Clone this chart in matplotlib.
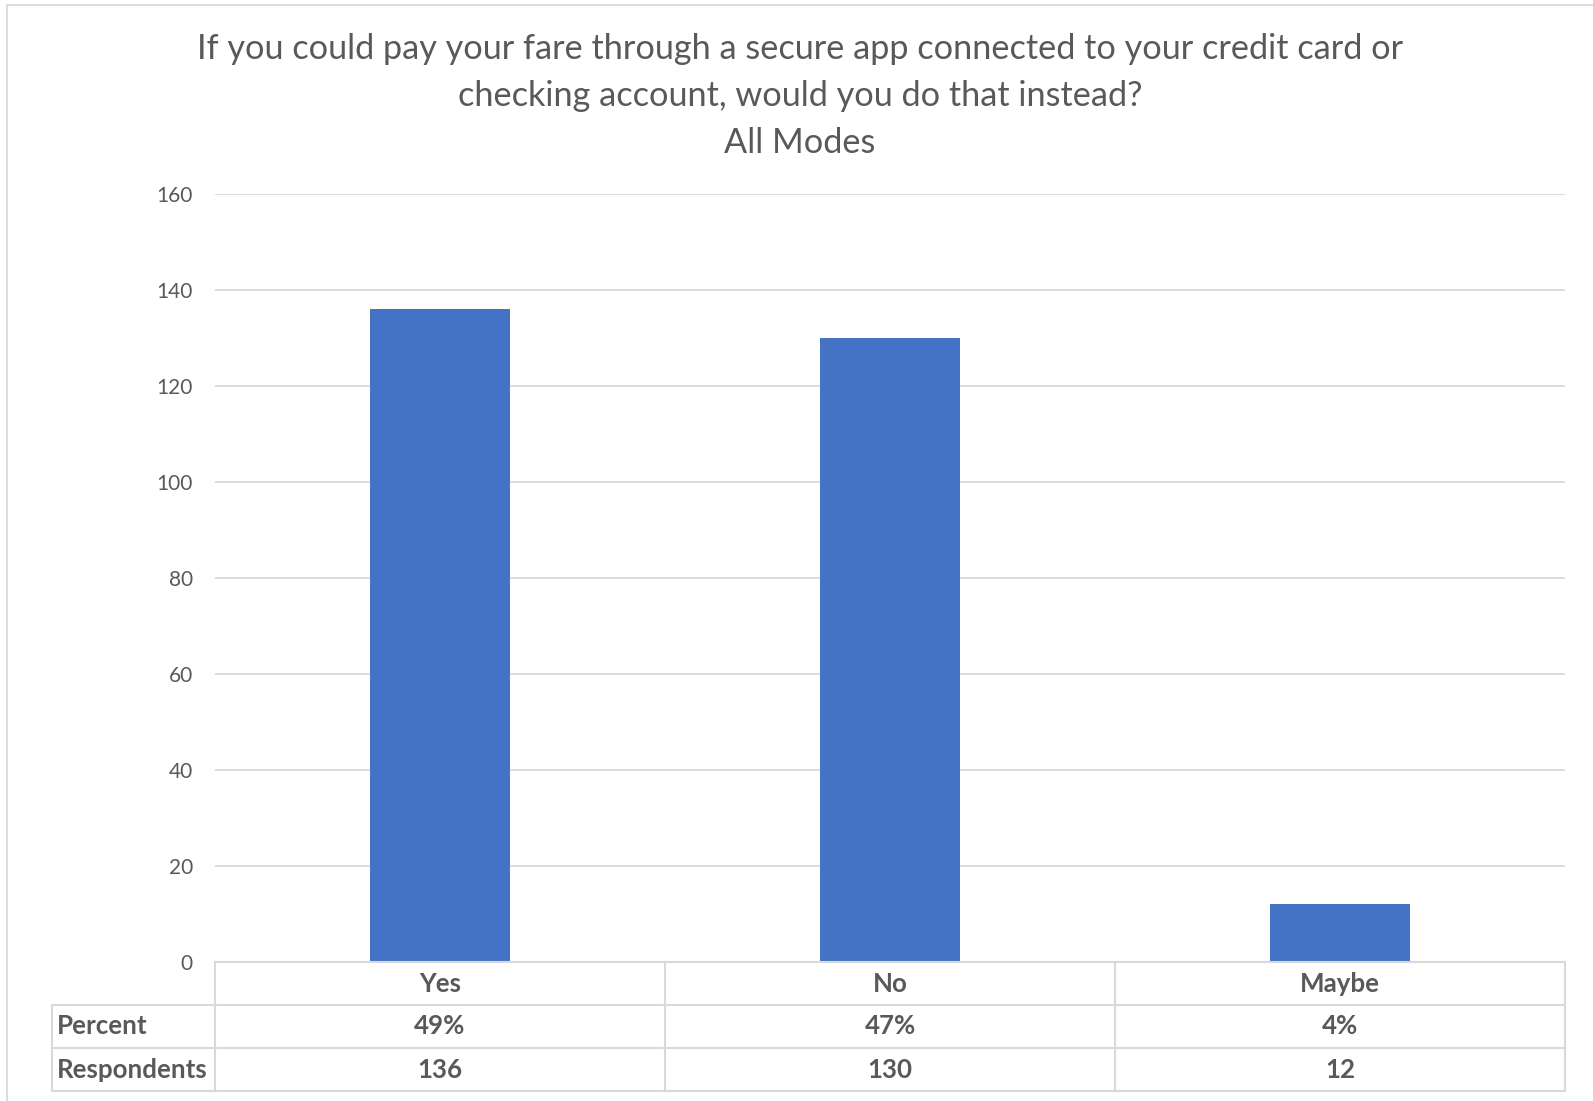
import matplotlib.pyplot as plt
from matplotlib.patches import Rectangle

plt.rcParams['font.family'] = ['Lato', 'DejaVu Sans']

categories = ['Yes', 'No', 'Maybe']
respondents = [136, 130, 12]
percent = ['49%', '47%', '4%']
row_labels = ['Percent', 'Respondents']
title = ('If you could pay your fare through a secure app connected to your credit card or\n'
         'checking account, would you do that instead?\nAll Modes')

W, H = 1593, 1101
text_color = '#595959'
grid_color = '#d9d9d9'
bar_color = '#4472C4'

fig = plt.figure(figsize=(W / 100, H / 100), dpi=100)

# outer chart border (only left and top edges are inside the frame)
fig.patches.append(Rectangle((7 / W, -0.1), 1.2, 1 - 5 / H + 0.1, transform=fig.transFigure,
                             fill=False, edgecolor=grid_color, linewidth=1.3))

left, right, top, bottom = 215, 1565, 194, 962
ax = fig.add_axes([left / W, 1 - bottom / H, (right - left) / W, (bottom - top) / H])

x = list(range(len(categories)))
ax.bar(x, respondents, width=0.31, color=bar_color, zorder=3)
ax.set_xlim(-0.5, len(categories) - 0.5)
ax.set_ylim(0, 160)
ax.set_yticks(range(0, 161, 20))
ax.yaxis.grid(True, color=grid_color, linewidth=1.3, zorder=0)
ax.tick_params(axis='y', length=0, pad=16, labelsize=15, labelcolor=text_color)
ax.set_xticks([])
for s in ax.spines.values():
    s.set_visible(False)

fig.text(800 / W, 1 - 96 / H, title, ha='center', va='center', fontsize=24.7,
         color=text_color, linespacing=1.56)

# data table underneath the bars
trans = ax.get_xaxis_transform()
ph = bottom - top
row_h = 43 / ph
cat_w = (right - left) / len(categories)
x_hdr = -0.5 - (left - 52) / cat_w
x_end = len(categories) - 0.5
lw = 1.5

# horizontal rules
ax.plot([-0.5, x_end], [0, 0], transform=trans, color=grid_color, lw=lw, clip_on=False, zorder=4)
for k in (1, 2, 3):
    ax.plot([x_hdr, x_end], [-k * row_h] * 2, transform=trans, color=grid_color,
            lw=lw, clip_on=False)
# vertical rules
ax.plot([x_hdr, x_hdr], [-row_h, -3 * row_h], transform=trans, color=grid_color,
        lw=lw, clip_on=False)
for xv in [i - 0.5 for i in range(len(categories) + 1)]:
    ax.plot([xv, xv], [0, -3 * row_h], transform=trans, color=grid_color, lw=lw, clip_on=False)

fs = 18.6
for i, c in enumerate(categories):
    ax.text(i, -0.5 * row_h, c, transform=trans, ha='center', va='center',
            fontsize=fs, fontweight='bold', color=text_color)
    ax.text(i, -1.5 * row_h, percent[i], transform=trans, ha='center', va='center',
            fontsize=fs, fontweight='bold', color=text_color)
    ax.text(i, -2.5 * row_h, str(respondents[i]), transform=trans, ha='center', va='center',
            fontsize=fs, fontweight='bold', color=text_color)
x_lbl = x_hdr + 5 / cat_w
for k, lab in enumerate(row_labels):
    ax.text(x_lbl, -(k + 1.5) * row_h, lab, transform=trans, ha='left', va='center',
            fontsize=fs, fontweight='bold', color=text_color)

fig.savefig('out.png', dpi=100)
